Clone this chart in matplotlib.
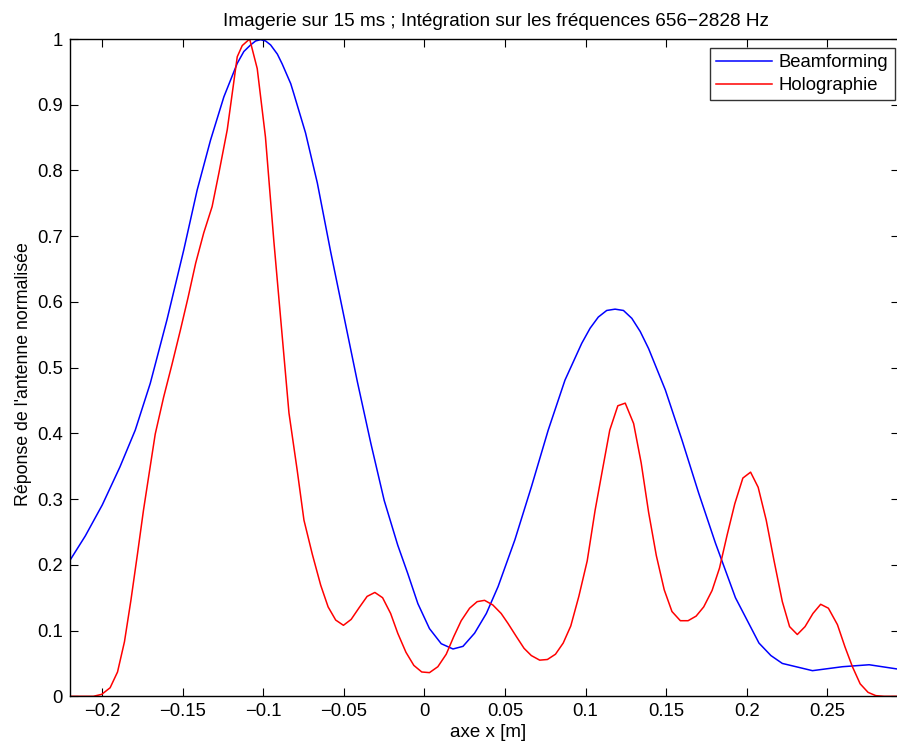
import matplotlib
matplotlib.use("Agg")
import matplotlib.pyplot as plt

plt.rcParams['font.family'] = ['Liberation Sans', 'DejaVu Sans']

beam_x = [-0.2205, -0.2105, -0.2000, -0.1890, -0.1795, -0.1702, -0.1598, -0.1494, -0.1411, -0.1328,
          -0.1245, -0.1162, -0.1121, -0.1079, -0.1048, -0.1017, -0.0986, -0.0955, -0.0913, -0.0883,
          -0.0830, -0.0810, -0.0738, -0.0665, -0.0582,
          -0.0499, -0.0416, -0.0333, -0.0250, -0.0166, -0.0104, -0.0041, 0.0031, 0.0104, 0.0177,
          0.0239, 0.0311, 0.0384, 0.0457, 0.0561, 0.0664, 0.0768, 0.0872, 0.0976, 0.1028, 0.1079,
          0.1131, 0.1183, 0.1235, 0.1287, 0.1339, 0.1391, 0.1495, 0.1598, 0.1702, 0.1806, 0.1930,
          0.2076, 0.2150, 0.2221, 0.2408, 0.2594, 0.2760, 0.2949]
beam_y = [0.205, 0.244, 0.291, 0.349, 0.405, 0.476, 0.573, 0.679, 0.770, 0.846,
          0.912, 0.963, 0.981, 0.991, 0.997, 0.999, 0.997, 0.991, 0.977, 0.962,
          0.932, 0.916, 0.857, 0.781, 0.676,
          0.577, 0.478, 0.385, 0.298, 0.230, 0.187, 0.141, 0.103, 0.080, 0.072,
          0.076, 0.096, 0.126, 0.167, 0.238, 0.319, 0.405, 0.481, 0.537, 0.560, 0.577,
          0.587, 0.589, 0.587, 0.575, 0.555, 0.529, 0.466, 0.390, 0.309, 0.233, 0.150,
          0.081, 0.062, 0.050, 0.039, 0.045, 0.048, 0.041]

holo_x = [-0.2200, -0.2055, -0.2003, -0.1951, -0.1905, -0.1862, -0.1822, -0.1781, -0.1744, -0.1712,
          -0.1671, -0.1619, -0.1567, -0.1515, -0.1467, -0.1420, -0.1370, -0.1318, -0.1276, -0.1224,
          -0.1162, -0.1131, -0.1085, -0.1038, -0.0987, -0.0935, -0.0883, -0.0841, -0.0790, -0.0748,
          -0.0696, -0.0644, -0.0598, -0.0551, -0.0503, -0.0455, -0.0405, -0.0356, -0.0308, -0.0260,
          -0.0210, -0.0166, -0.0115, -0.0066, -0.0017, 0.0031, 0.0083, 0.0135, 0.0182, 0.0228,
          0.0280, 0.0327, 0.0373, 0.0424, 0.0476, 0.0518, 0.0570, 0.0618, 0.0663, 0.0715,
          0.0763, 0.0813, 0.0861, 0.0908, 0.0958, 0.1010, 0.1059, 0.1105, 0.1150, 0.1200,
          0.1246, 0.1298, 0.1345, 0.1391, 0.1439, 0.1488, 0.1536, 0.1588, 0.1636, 0.1686,
          0.1733, 0.1785, 0.1831, 0.1878, 0.1926, 0.1976, 0.2024, 0.2071, 0.2121, 0.2169,
          0.2221, 0.2266, 0.2314, 0.2362, 0.2411, 0.2459, 0.2507, 0.2563, 0.2610, 0.2656,
          0.2704, 0.2753, 0.2801, 0.2853, 0.2950]
holo_y = [0.000, 0.000, 0.003, 0.013, 0.037, 0.083, 0.146, 0.217, 0.283, 0.334,
          0.399, 0.455, 0.505, 0.557, 0.607, 0.659, 0.705, 0.745, 0.796, 0.862,
          0.973, 0.990, 1.000, 0.955, 0.851, 0.693, 0.548, 0.431, 0.344, 0.268,
          0.216, 0.169, 0.136, 0.116, 0.108, 0.117, 0.135, 0.152, 0.158, 0.150,
          0.126, 0.096, 0.067, 0.047, 0.037, 0.036, 0.045, 0.064, 0.091, 0.115,
          0.134, 0.144, 0.146, 0.139, 0.126, 0.111, 0.091, 0.073, 0.062, 0.055,
          0.056, 0.064, 0.081, 0.107, 0.152, 0.206, 0.283, 0.345, 0.405, 0.442,
          0.446, 0.415, 0.355, 0.280, 0.214, 0.162, 0.129, 0.115, 0.115, 0.122,
          0.136, 0.161, 0.195, 0.245, 0.293, 0.332, 0.341, 0.318, 0.268, 0.207,
          0.144, 0.106, 0.094, 0.106, 0.126, 0.140, 0.134, 0.109, 0.075, 0.045,
          0.019, 0.006, 0.001, 0.000, 0.000]

xticks = [-0.2, -0.15, -0.1, -0.05, 0, 0.05, 0.1, 0.15, 0.2, 0.25]
xtick_labels = ['\u22120.2', '\u22120.15', '\u22120.1', '\u22120.05', '0', '0.05', '0.1', '0.15', '0.2', '0.25']
yticks = [0, 0.1, 0.2, 0.3, 0.4, 0.5, 0.6, 0.7, 0.8, 0.9, 1]
ytick_labels = ['0', '0.1', '0.2', '0.3', '0.4', '0.5', '0.6', '0.7', '0.8', '0.9', '1']

W, H = 897, 747
fig = plt.figure(figsize=(W / 100, H / 100), dpi=100)
ax = fig.add_axes([70 / W, (H - 696.3) / H, (898.5 - 70) / W, (696.3 - 39) / H])

ax.plot(beam_x, beam_y, color=(0, 0, 1), lw=1.1, label='Beamforming')
ax.plot(holo_x, holo_y, color=(1, 0, 0), lw=1.1, label='Holographie')

ax.set_xlim(-0.22, 0.2942)
ax.set_ylim(0, 1)
ax.set_xticks(xticks)
ax.set_xticklabels(xtick_labels)
ax.set_yticks(yticks)
ax.set_yticklabels(ytick_labels)
ax.tick_params(direction='in', length=6, width=0.8, top=True, right=True,
               labelsize=13.3, pad=5, colors='black')
for s in ax.spines.values():
    s.set_linewidth(1.0)

ax.set_title('Imagerie sur 15 ms ; Int\u00e9gration sur les fr\u00e9quences 656\u22122828 Hz',
             fontsize=13.7, pad=9.4, x=0.5136)
ax.set_xlabel('axe x [m]', fontsize=13.5)
ax.xaxis.set_label_coords((488 - 70) / 828.5, -(724 - 696.3) / 657.3)
ax.xaxis.label.set_va('top')
ax.set_ylabel("R\u00e9ponse de l'antenne normalis\u00e9e", fontsize=12.8)
ax.yaxis.set_label_coords(-(70 - 20) / 828.5 + 3 / 828.5, 0.491)
ax.yaxis.label.set_va('center')

leg = ax.legend(loc='upper right', bbox_to_anchor=(895 / W, (H - 48) / H),
                bbox_transform=fig.transFigure, fontsize=13.3, frameon=True,
                fancybox=False, borderaxespad=0, handlelength=3.0,
                handletextpad=0.4, borderpad=0.35, labelspacing=0.3)
leg.get_frame().set_edgecolor('black')
leg.get_frame().set_linewidth(1.0)

fig.savefig('out.png', dpi=100)
